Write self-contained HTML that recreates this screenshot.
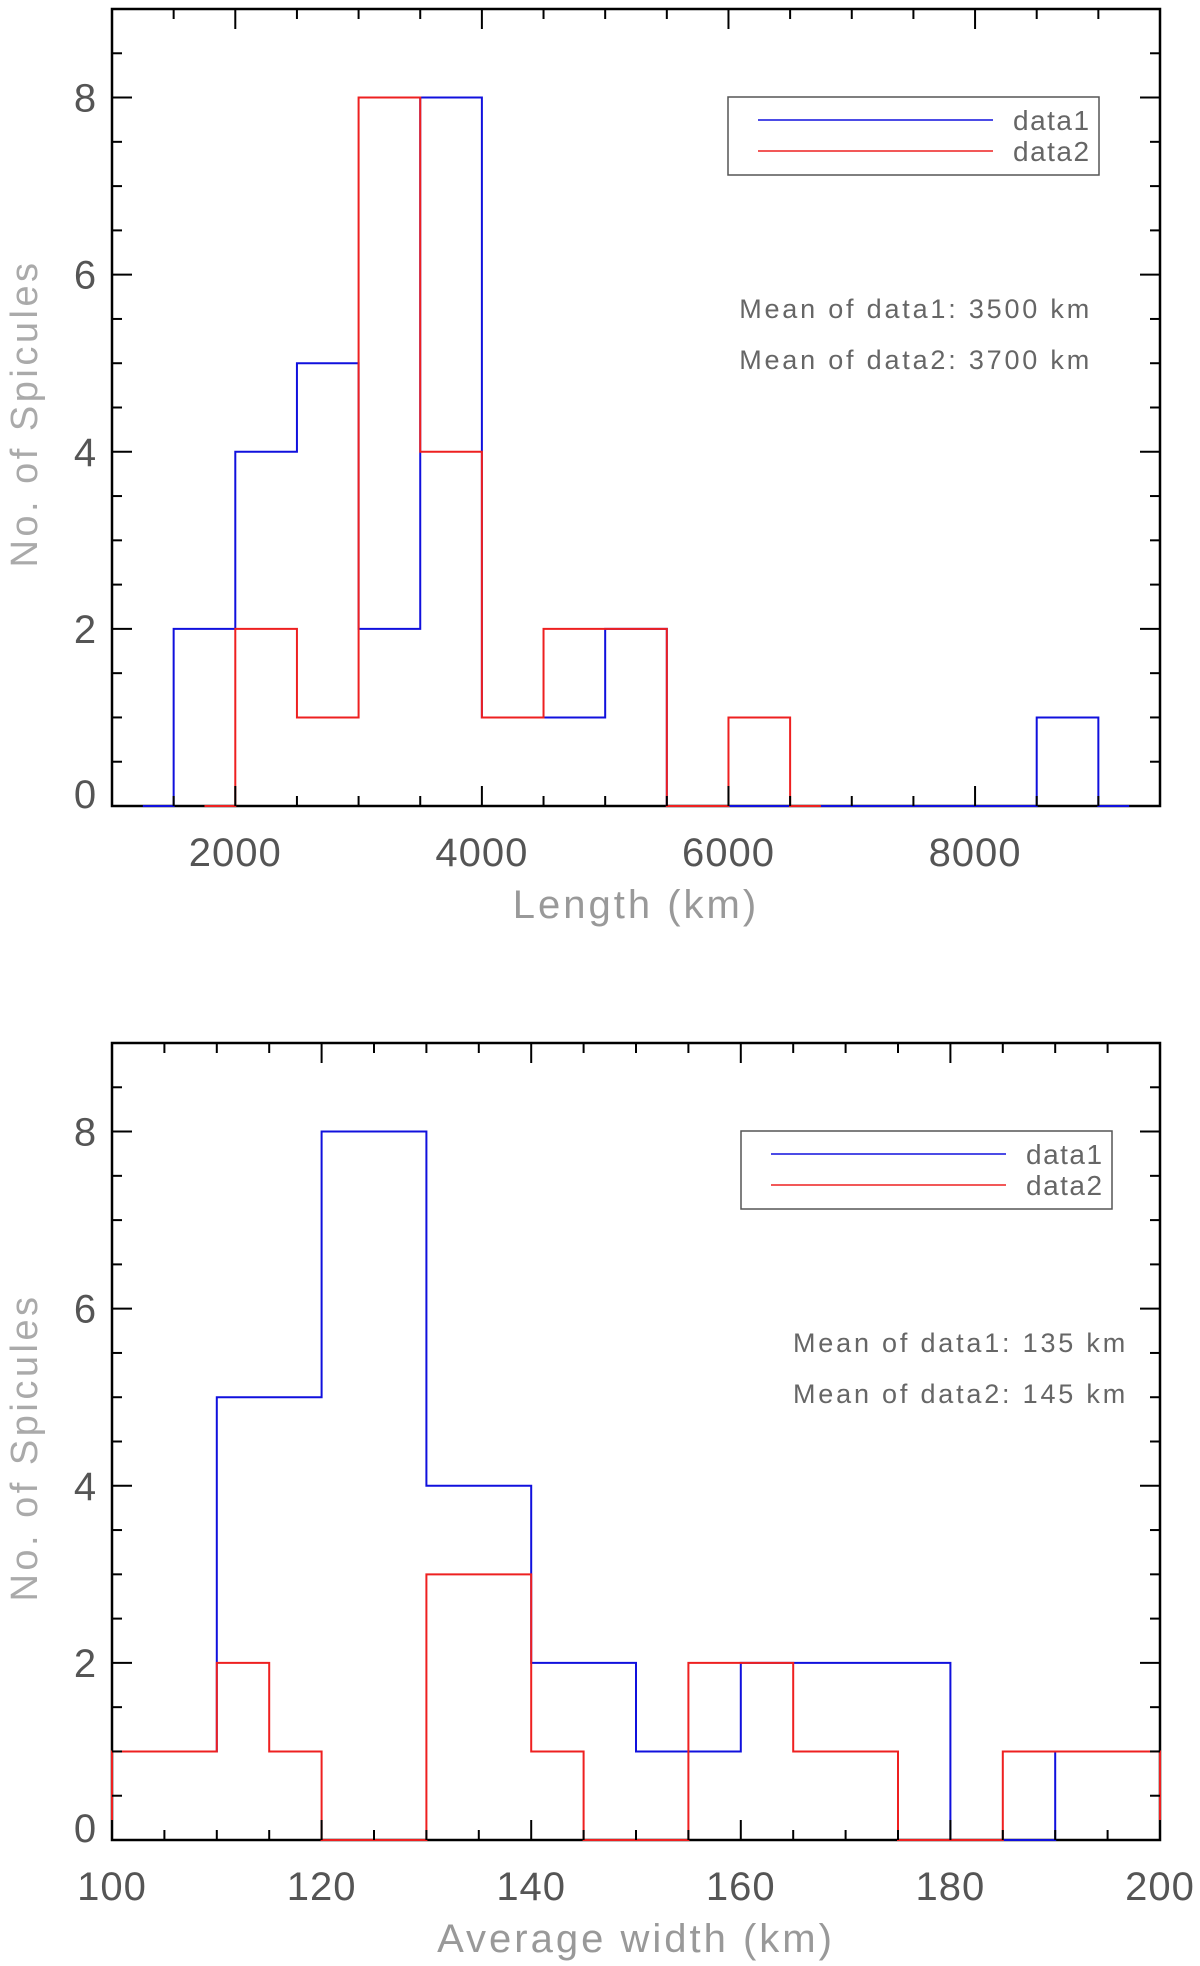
<!DOCTYPE html>
<html><head><meta charset="utf-8"><style>
html,body{margin:0;padding:0;background:#fff;width:1200px;height:1966px;overflow:hidden}
svg{display:block}
text{font-family:"Liberation Sans",sans-serif}
</style></head><body>
<svg id="chart" width="1200" height="1966" viewBox="0 0 1200 1966" xmlns="http://www.w3.org/2000/svg"></svg>
<script>
// Top chart data (Length, bins of 500 km)
const lenEdges1 = [1250,1500,2000,2500,3000,3500,4000,4500,5000,5500,6000,6500,7000,7500,8000,8500,9000,9250];
const lenCounts1 = [0,2,4,5,2,8,1,1,2,0,0,0,0,0,0,1,0];
const lenEdges2 = [1750,2000,2500,3000,3500,4000,4500,5000,5500,6000,6500,6750];
const lenCounts2 = [0,2,1,8,4,1,2,2,0,1,0];
const lenXTicks = [2000,4000,6000,8000];
const lenYTicks = [0,2,4,6,8];
// Bottom chart data (Average width, bins of 5 km)
const widEdges = [100,105,110,115,120,125,130,135,140,145,150,155,160,165,170,175,180,185,190,195,200];
const widCounts1 = [1,1,5,5,8,8,4,4,2,2,1,1,2,2,2,2,0,0,1,1];
const widCounts2 = [1,1,2,1,0,0,3,3,1,0,0,2,2,1,1,0,0,1,1,1];
const widXTicks = [100,120,140,160,180,200];
const widYTicks = [0,2,4,6,8];

const NS = "http://www.w3.org/2000/svg";
const svg = document.getElementById('chart');
function mk(tag, attrs, parent){const e=document.createElementNS(NS,tag);for(const k in attrs)e.setAttribute(k,attrs[k]);(parent||svg).appendChild(e);return e;}

function drawChart(cfg){
  const g = mk('g',{});
  
  
  const L=112,R=1160,T=cfg.top,B=cfg.top+797;
  const sx=v=>L+(v-cfg.xmin)/(cfg.xmax-cfg.xmin)*(R-L);
  const sy=v=>B-(v/9)*(B-T);
  // frame
  const f=mk('rect',{x:L,y:T,width:R-L,height:B-T,fill:'none',stroke:'#000','stroke-width':2.5},g);
  
  
  // series
  cfg.series.forEach(s=>{
    let d='M'+sx(s.edges[0])+','+sy(0);
    for(let i=0;i<s.counts.length;i++){
      d+=' L'+sx(s.edges[i])+','+sy(s.counts[i])+' L'+sx(s.edges[i+1])+','+sy(s.counts[i]);
    }
    d+=' L'+sx(s.edges[s.edges.length-1])+','+sy(0);
    const p=mk('path',{d:d,fill:'none',stroke:s.color,'stroke-width':2},g);
    
    
  });
  // y ticks every 0.5, major every 2
  for(let v=0;v<=9.001;v+=0.5){
    const major=Math.abs(v%2)<1e-6; const len=major?20:10; const y=sy(v);
    mk('line',{x1:L,y1:y,x2:L+len,y2:y,stroke:'#000','stroke-width':2},g);
    mk('line',{x1:R,y1:y,x2:R-len,y2:y,stroke:'#000','stroke-width':2},g);
  }
  for(let v=cfg.xmin;v<=cfg.xmax+1e-6;v+=cfg.xminor){
    const major=cfg.xTicks.some(t=>Math.abs(t-v)<1e-6); const len=major?20:10; const x=sx(v);
    mk('line',{x1:x,y1:B,x2:x,y2:B-len,stroke:'#000','stroke-width':2},g);
    mk('line',{x1:x,y1:T,x2:x,y2:T+len,stroke:'#000','stroke-width':2},g);
  }
  cfg.yTicks.forEach(v=>{
    const t=mk('text',{x:85,y:sy(v)+(v===0?2:14),'text-anchor':'middle','font-size':40,fill:'#555'},g);
    t.textContent=v;
    
    
  });
  cfg.xTicks.forEach(v=>{
    const t=mk('text',{x:sx(v),y:B+60,'text-anchor':'middle','font-size':40,fill:'#555','letter-spacing':1},g);
    t.textContent=v;
    
    
  });
  const xt=mk('text',{x:(L+R)/2,y:B+112,'text-anchor':'middle','font-size':40,fill:'#999','letter-spacing':3},g);
  xt.textContent=cfg.xTitle;
  
  
  const yc=(T+B)/2+6;
  const yt=mk('text',{x:37,y:yc,'text-anchor':'middle','font-size':38,fill:'#aaa','letter-spacing':3.5,transform:'rotate(-90 37 '+yc+')'},g);
  yt.textContent='No. of Spicules';
  
  
  // legend
  const lg=mk('g',{},g);
  
  
  const lx=cfg.legX, ly=T+88;
  mk('rect',{x:lx,y:ly,width:371,height:78,fill:'none',stroke:'#555','stroke-width':1.5},lg);
  [['data1','#1010dd',23],['data2','#ee2020',54]].forEach(([n,c,dy])=>{
    mk('line',{x1:lx+30,y1:ly+dy,x2:lx+265,y2:ly+dy,stroke:c,'stroke-width':1.5},lg);
    const t=mk('text',{x:lx+285,y:ly+dy+10,'font-size':28,fill:'#666','letter-spacing':1.5},lg);
    t.textContent=n;
    
    
  });
  cfg.means.forEach((m,i)=>{
    const t=mk('text',{x:cfg.meanRight,y:T+cfg.meanY+i*51,'text-anchor':'end','font-size':27,fill:'#666','letter-spacing':2.8},g);
    t.textContent=m;
    
    
  });
}

drawChart({name:'length-histogram',top:9,xmin:1000,xmax:9500,xminor:500,xTicks:lenXTicks,yTicks:lenYTicks,
  xTitle:'Length (km)',legX:728,meanRight:1092,meanY:309,
  means:['Mean of data1: 3500 km','Mean of data2: 3700 km'],
  series:[{name:'data1-length-series',edges:lenEdges1,counts:lenCounts1,color:'#1010dd'},
          {name:'data2-length-series',edges:lenEdges2,counts:lenCounts2,color:'#ee2020'}]});
drawChart({name:'width-histogram',top:1043,xmin:100,xmax:200,xminor:5,xTicks:widXTicks,yTicks:widYTicks,
  xTitle:'Average width (km)',legX:741,meanRight:1128,meanY:309,
  means:['Mean of data1: 135 km','Mean of data2: 145 km'],
  series:[{name:'data1-width-series',edges:widEdges,counts:widCounts1,color:'#1010dd'},
          {name:'data2-width-series',edges:widEdges,counts:widCounts2,color:'#ee2020'}]});
</script>
</body></html>
